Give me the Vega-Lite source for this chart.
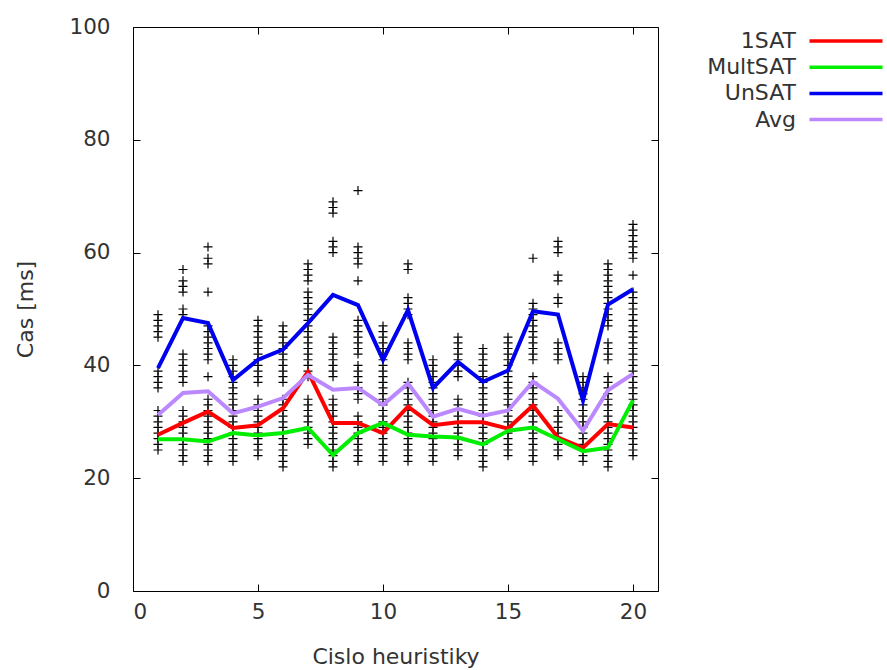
{
  "$schema": "https://vega.github.io/schema/vega-lite/v6.json",
  "width": 525,
  "height": 564,
  "autosize": "none",
  "padding": {"left": 133, "top": 27, "right": 229, "bottom": 79},
  "background": "white",
  "config": {
    "font": "DejaVu Sans",
    "view": {"stroke": "#000000", "strokeWidth": 1},
    "axis": {
      "grid": false,
      "domain": false,
      "ticks": true,
      "tickColor": "#000000",
      "tickSize": -7,
      "tickWidth": 1,
      "labelFont": "DejaVu Sans",
      "labelFontSize": 21.5,
      "labelColor": "#333333",
      "titleFont": "DejaVu Sans",
      "titleFontSize": 22,
      "titleFontWeight": "normal",
      "titleColor": "#333333"
    }
  },
  "datasets": {
    "times": [
      {"h": 1, "t": [25,26,27,28,29,30,31,32,36,37,38,39,45,46,47,48,49]},
      {"h": 2, "t": [23,24,25,26,27,28,29,30,31,32,37,38,39,40,41,42,49,50,53,54,55,57]},
      {"h": 3, "t": [23,24,25,26,27,28,29,30,31,32,33,34,38,41,42,43,44,45,46,47,53,58,59,61]},
      {"h": 4, "t": [23,24,25,26,27,28,29,30,31,32,33,34,35,36,37,38,39,40,41]},
      {"h": 5, "t": [24,25,26,27,28,29,30,31,32,33,34,37,38,39,40,41,42,43,44,45,46,47,48]},
      {"h": 6, "t": [22,23,24,25,26,27,28,29,30,31,32,33,34,37,38,39,40,41,42,43,44,45,46,47]},
      {"h": 7, "t": [26,27,28,29,30,31,32,33,34,38,39,40,41,42,43,44,45,46,47,48,49,50,51,52,53,55,56,57,58]},
      {"h": 8, "t": [22,23,24,25,26,27,28,29,30,31,32,33,34,38,39,40,41,42,43,44,45,60,61,62,67,68,69]},
      {"h": 9, "t": [23,24,25,26,27,28,29,30,31,34,35,36,37,38,39,40,42,43,44,45,46,47,48,55,58,59,60,61,71]},
      {"h": 10, "t": [23,24,25,26,27,28,29,30,31,32,33,34,35,36,37,38,39,40,41,42,43,44,45,46,47]},
      {"h": 11, "t": [23,24,25,26,27,28,29,30,31,32,33,34,35,36,37,41,42,43,44,49,50,51,52,57,58]},
      {"h": 12, "t": [23,24,25,26,27,28,29,30,31,32,33,34,35,36,37,38,39,40,41]},
      {"h": 13, "t": [24,25,26,27,28,29,30,31,32,33,34,38,39,40,41,42,43,44,45]},
      {"h": 14, "t": [22,23,24,25,26,27,28,29,30,31,32,33,34,35,36,37,38,39,40,41,42,43]},
      {"h": 15, "t": [24,25,26,27,28,29,30,31,32,33,34,35,36,37,38,39,40,41,42,43,44,45]},
      {"h": 16, "t": [23,24,25,26,27,28,29,30,31,32,33,34,35,36,37,38,41,42,43,44,45,46,47,48,49,50,51,59]},
      {"h": 17, "t": [24,25,26,27,28,29,30,31,32,41,42,43,44,51,52,55,56,60,61,62]},
      {"h": 18, "t": [23,24,25,26,27,28,29,30,31,32,33,34,35,36,37,38]},
      {"h": 19, "t": [22,23,24,25,26,27,28,29,30,31,32,33,34,35,36,37,38,41,42,43,44,47,48,49,50,51,52,53,54,55,56,57,58]},
      {"h": 20, "t": [24,25,26,27,28,29,30,31,32,33,34,35,36,37,38,39,40,41,42,43,44,45,46,47,48,49,50,51,52,53,56,59,60,61,62,63,64,65]}
    ],
    "means": [
      {"h": 1, "1SAT": 27.7, "MultSAT": 26.9, "UnSAT": 39.5, "Avg": 31.2},
      {"h": 2, "1SAT": 29.8, "MultSAT": 26.9, "UnSAT": 48.4, "Avg": 35.1},
      {"h": 3, "1SAT": 31.8, "MultSAT": 26.5, "UnSAT": 47.5, "Avg": 35.4},
      {"h": 4, "1SAT": 28.9, "MultSAT": 28.0, "UnSAT": 37.4, "Avg": 31.5},
      {"h": 5, "1SAT": 29.4, "MultSAT": 27.6, "UnSAT": 41.0, "Avg": 32.7},
      {"h": 6, "1SAT": 32.4, "MultSAT": 28.0, "UnSAT": 42.8, "Avg": 34.2},
      {"h": 7, "1SAT": 38.9, "MultSAT": 28.9, "UnSAT": 47.5, "Avg": 38.3},
      {"h": 8, "1SAT": 29.8, "MultSAT": 24.1, "UnSAT": 52.5, "Avg": 35.7},
      {"h": 9, "1SAT": 29.8, "MultSAT": 28.0, "UnSAT": 50.7, "Avg": 36.0},
      {"h": 10, "1SAT": 28.0, "MultSAT": 29.8, "UnSAT": 41.0, "Avg": 33.0},
      {"h": 11, "1SAT": 32.7, "MultSAT": 27.7, "UnSAT": 49.8, "Avg": 36.8},
      {"h": 12, "1SAT": 29.4, "MultSAT": 27.4, "UnSAT": 36.0, "Avg": 30.9},
      {"h": 13, "1SAT": 29.9, "MultSAT": 27.2, "UnSAT": 40.6, "Avg": 32.3},
      {"h": 14, "1SAT": 29.9, "MultSAT": 26.0, "UnSAT": 37.1, "Avg": 31.1},
      {"h": 15, "1SAT": 28.8, "MultSAT": 28.4, "UnSAT": 39.1, "Avg": 32.0},
      {"h": 16, "1SAT": 32.9, "MultSAT": 29.0, "UnSAT": 49.6, "Avg": 37.1},
      {"h": 17, "1SAT": 27.2, "MultSAT": 26.9, "UnSAT": 49.0, "Avg": 34.1},
      {"h": 18, "1SAT": 25.4, "MultSAT": 24.8, "UnSAT": 33.8, "Avg": 28.4},
      {"h": 19, "1SAT": 29.6, "MultSAT": 25.4, "UnSAT": 50.8, "Avg": 35.6},
      {"h": 20, "1SAT": 29.0, "MultSAT": 33.8, "UnSAT": 53.5, "Avg": 38.5}
    ]
  },
  "layer": [
    {
      "data": {"name": "times"},
      "transform": [{"flatten": ["t"]}],
      "mark": {
        "type": "point",
        "shape": "M-1,0L1,0M0,-1L0,1",
        "size": 81,
        "filled": false,
        "color": "#000000",
        "strokeWidth": 1.2,
        "opacity": 1
      },
      "encoding": {
        "x": {
          "field": "h",
          "type": "quantitative",
          "scale": {"domain": [0, 21], "nice": false, "zero": false},
          "axis": {
            "orient": "bottom",
            "values": [0, 5, 10, 15, 20],
            "title": "Cislo heuristiky",
            "labelPadding": 17,
            "titlePadding": 24
          }
        },
        "y": {
          "field": "t",
          "type": "quantitative",
          "scale": {"domain": [0, 100], "nice": false},
          "axis": {
            "orient": "left",
            "values": [0, 20, 40, 60, 80, 100],
            "title": "Cas [ms]",
            "labelPadding": 30,
            "titlePadding": 31
          }
        }
      }
    },
    {
      "data": {"name": "means"},
      "transform": [{"fold": ["1SAT", "MultSAT", "UnSAT", "Avg"], "as": ["serie", "v"]}],
      "mark": {"type": "line", "strokeWidth": 4, "strokeJoin": "miter"},
      "encoding": {
        "x": {"field": "h", "type": "quantitative", "axis": null},
        "y": {"field": "v", "type": "quantitative", "axis": null},
        "color": {
          "field": "serie",
          "type": "nominal",
          "scale": {
            "domain": ["1SAT", "MultSAT", "UnSAT", "Avg"],
            "range": ["#ff0000", "#00ee00", "#0000f0", "#bb88ff"]
          },
          "legend": {
            "title": null,
            "orient": "none",
            "legendX": 702,
            "legendY": 3,
            "padding": 0,
            "symbolType": "M-8,0L8,0",
            "symbolSize": 83.3,
            "symbolStrokeWidth": 3.5,
            "symbolFillColor": "transparent",
            "labelAlign": "right",
            "labelOffset": -61,
            "labelFont": "DejaVu Sans",
            "labelFontSize": 22,
            "labelColor": "#333333",
            "rowPadding": 4.2
          }
        }
      }
    },
    {
      "data": {"name": "means"},
      "mark": {"type": "point", "opacity": 0},
      "encoding": {
        "x": {
          "field": "h",
          "type": "quantitative",
          "axis": {"orient": "top", "values": [0, 5, 10, 15, 20], "labels": false, "title": null}
        },
        "y": {
          "field": "UnSAT",
          "type": "quantitative",
          "axis": {"orient": "right", "values": [0, 20, 40, 60, 80, 100], "labels": false, "title": null}
        }
      }
    }
  ],
  "resolve": {"axis": {"x": "independent", "y": "independent"}}
}
